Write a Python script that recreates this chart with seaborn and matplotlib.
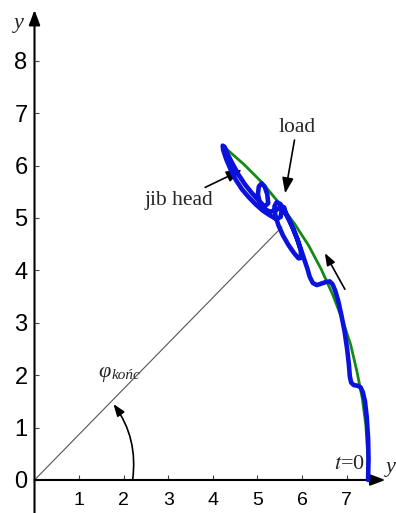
import matplotlib
matplotlib.use("Agg")
import matplotlib.pyplot as plt
import seaborn as sns

# Jib-head path (green) and load path (blue) in the x-y plane, metres
jib_x = [7.48, 7.47, 7.43, 7.35, 7.23, 7.09, 6.90, 6.68, 6.43, 6.15, 5.83,
         5.48, 5.11, 4.70, 4.22]
jib_y = [0.00, 0.52, 1.04, 1.56, 2.07, 2.58, 3.07, 3.55, 4.02, 4.47, 4.89,
         5.29, 5.67, 6.02, 6.38]

load_x = [7.48, 7.49, 7.48, 7.45, 7.41, 7.36, 7.31, 7.24, 7.16, 7.10, 7.07,
          7.05, 7.01, 6.95, 6.88, 6.81, 6.74, 6.68, 6.62, 6.54, 6.44, 6.33,
          6.24, 6.17, 6.12, 6.06,
          5.99, 5.91, 5.81, 5.70, 5.60, 5.51, 5.43, 5.38, 5.40, 5.47, 5.57,
          5.69, 5.82, 5.92, 5.98, 5.97, 5.89, 5.78, 5.66, 5.55, 5.52, 5.42,
          5.28, 5.12, 4.96, 4.80, 4.65, 4.52, 4.40, 4.30, 4.23, 4.22, 4.26,
          4.34, 4.45, 4.58, 4.72, 4.88, 5.03, 5.16,
          5.24, 5.22, 5.16, 5.09, 5.03, 5.01, 5.05, 5.14, 5.28, 5.42, 5.53,
          5.60, 5.63]
load_y = [0.00, 0.40, 0.80, 1.20, 1.50, 1.68, 1.77, 1.80, 1.81, 1.86, 1.98,
          2.20, 2.50, 2.85, 3.15, 3.42, 3.62, 3.74, 3.79, 3.78, 3.75, 3.72,
          3.76, 3.88, 4.03, 4.18,
          4.36, 4.56, 4.78, 4.99, 5.15, 5.27, 5.30, 5.22, 5.05, 4.86, 4.67,
          4.49, 4.33, 4.23, 4.24, 4.38, 4.60, 4.83, 5.04, 5.20, 5.02, 4.98,
          5.05, 5.14, 5.26, 5.40, 5.55, 5.72, 5.92, 6.12, 6.30, 6.38, 6.36,
          6.20, 6.02, 5.82, 5.64, 5.47, 5.33, 5.22,
          5.28, 5.45, 5.60, 5.66, 5.60, 5.45, 5.30, 5.18, 5.12, 5.15, 5.22,
          5.20, 5.10]

x_ticks = [1, 2, 3, 4, 5, 6, 7]
y_ticks = [0, 1, 2, 3, 4, 5, 6, 7, 8]

# final jib angle ray end point
ray_end = (5.55, 4.83)

GREEN = "#148a14"
BLUE = "#0b12dc"

sns.set_theme(style="white")
plt.rcParams["font.family"] = ["Liberation Sans", "DejaVu Sans"]
plt.rcParams["mathtext.fontset"] = "stix"

fig = plt.figure(figsize=(3.96, 5.13), dpi=100)
ax = fig.add_axes([0, 0, 1, 1])
ax.set_facecolor("white")

sns.lineplot(x=jib_x, y=jib_y, sort=False, estimator=None, color=GREEN,
             lw=2.0, ax=ax, zorder=3)
sns.lineplot(x=load_x, y=load_y, sort=False, estimator=None, color=BLUE,
             lw=3.3, ax=ax, zorder=4, solid_joinstyle="round",
             solid_capstyle="round")

# thin ray from the origin
ax.plot([0, ray_end[0]], [0, ray_end[1]], color="#555555", lw=0.8, zorder=2)

ax.set_xlim(-0.774, 8.106)
ax.set_ylim(-0.630, 9.160)

for side in ["left", "bottom", "top", "right"]:
    ax.spines[side].set_visible(False)
ax.spines["left"].set_position(("data", 0))
ax.spines["bottom"].set_position(("data", 0))

ax.set_xticks(x_ticks)
ax.set_yticks(y_ticks)
ax.set_xticklabels([str(v) for v in x_ticks])
ax.set_yticklabels([str(v) for v in y_ticks])
ax.tick_params(axis="x", bottom=True, direction="in", length=3.5, width=0.8,
               color="#444444", labelsize=14, labelcolor="black", pad=9)
ax.tick_params(axis="y", left=True, direction="in", length=3, width=0.8,
               color="#444444", labelsize=17, labelcolor="black", pad=5)
ax.set_xlabel("")
ax.set_ylabel("")

# axes with arrow heads
arrow_axis = dict(arrowstyle="-|>,head_length=0.75,head_width=0.28",
                  lw=1.5, color="black", shrinkA=0, shrinkB=0)
ax.annotate("", xy=(0, 8.97), xytext=(0, -0.65), arrowprops=arrow_axis,
            annotation_clip=False)
ax.annotate("", xy=(7.87, 0), xytext=(0, 0), arrowprops=arrow_axis,
            annotation_clip=False)

serif = ["Liberation Serif", "DejaVu Serif"]
ax.text(-0.35, 8.72, "y", family=serif, style="italic", fontsize=16,
        ha="center", va="center")
ax.text(8.10, 0.23, "y", family=serif, style="italic", fontsize=16,
        ha="right", va="center")
ax.text(7.07, 0.29, "$t$=0", family=serif, fontsize=16, ha="center",
        va="center")

# annotated labels
pointer = dict(arrowstyle="-|>,head_length=0.6,head_width=0.22", lw=1.2,
               color="black", shrinkA=0, shrinkB=0)
ax.annotate("jib head", xy=(4.65, 5.92), xytext=(4.00, 5.34),
            arrowprops=pointer, family=serif, fontsize=15.5,
            ha="right", va="center")
ax.annotate("load", xy=(5.62, 5.47), xytext=(5.88, 6.55),
            arrowprops=pointer, family=serif, fontsize=15.5,
            ha="center", va="bottom")
ax.annotate("", xy=(6.51, 4.33), xytext=(6.96, 3.64), arrowprops=pointer)

# angle marker
angle_arrow = dict(arrowstyle="-|>,head_length=0.6,head_width=0.22", lw=1.2,
                   color="black", shrinkA=0, shrinkB=0,
                   connectionstyle="arc3,rad=0.2")
ax.annotate("", xy=(1.77, 1.45), xytext=(2.20, 0.0), arrowprops=angle_arrow)
ax.text(1.56, 2.06, "\u03c6", family=serif, style="italic", fontsize=16,
        ha="center", va="center")
ax.text(1.73, 1.92, "ko\u0144c", family=serif, style="italic", fontsize=11,
        ha="left", va="baseline")

fig.savefig("out.png", dpi=100)
